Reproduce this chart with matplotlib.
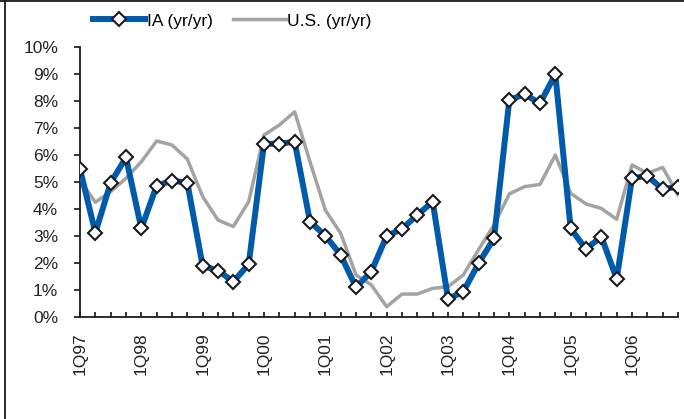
import numpy as np
import matplotlib
matplotlib.use('Agg')
import matplotlib.pyplot as plt
from matplotlib.lines import Line2D

plt.rcParams['font.family'] = ['Liberation Sans', 'DejaVu Sans']

years = ['97', '98', '99', '00', '01', '02', '03', '04', '05', '06']
quarters = ['%dQ%s' % (q, y) for y in years for q in (1, 2, 3, 4)]

ia = [5.48, 3.12, 4.97, 5.91, 3.28, 4.86, 5.05, 4.97,
      1.89, 1.72, 1.31, 1.95, 6.41, 6.42, 6.49, 3.53,
      3.01, 2.30, 1.10, 1.68, 3.00, 3.26, 3.78, 4.27,
      0.67, 0.94, 1.99, 2.91, 8.04, 8.25, 7.91, 8.99,
      3.28, 2.51, 2.98, 1.41, 5.14, 5.23, 4.73, 4.83]
us = [5.07, 4.25, 4.64, 5.14, 5.75, 6.52, 6.37, 5.85,
      4.46, 3.59, 3.35, 4.27, 6.74, 7.11, 7.60, 5.75,
      3.96, 3.10, 1.56, 1.19, 0.38, 0.85, 0.85, 1.06,
      1.12, 1.56, 2.50, 3.41, 4.56, 4.83, 4.91, 6.00,
      4.58, 4.19, 4.02, 3.62, 5.63, 5.32, 5.54, 4.52]

x = np.arange(len(quarters))

fig = plt.figure(figsize=(6.84, 4.19), dpi=100, facecolor='w')
ax = fig.add_axes([80/684., 1-317/419., 598/684., 270/419.])

ax.plot(x, us, color='#a3a3a3', lw=2.5, label='U.S. (yr/yr)', zorder=2)
ax.plot(x, ia, color='#005bab', lw=4.3, marker='D', ms=7.5,
        mfc='w', mec='#1a1a1a', mew=1.5, label='IA (yr/yr)', zorder=3)

ax.set_xlim(0, len(quarters)-1)
ax.set_ylim(0, 10)
ax.set_yticks(np.arange(0, 11, 1))
ax.set_yticklabels(['%d%%' % v for v in range(11)], fontsize=12.5, color='#222222')
ax.set_xticks(x)
ax.set_xticklabels([q if q.startswith('1Q') else '' for q in quarters],
                   rotation=90, fontsize=12.5, color='#222222')
ax.tick_params(axis='x', direction='in', length=3.6, width=1.1, pad=10.8)
ax.tick_params(axis='y', direction='out', length=4.3, width=1.1, pad=11.5)
for s in ['top', 'right']:
    ax.spines[s].set_visible(False)
for s in ['left', 'bottom']:
    ax.spines[s].set_linewidth(1.3)
    ax.spines[s].set_color('#1a1a1a')

h, l = ax.get_legend_handles_labels()
fig.legend(h[::-1], l[::-1], loc='center left', bbox_to_anchor=(86/684., 1-21/419.),
           ncol=2, frameon=False, fontsize=12.5, handlelength=3.0,
           handletextpad=0.1, columnspacing=1.2, borderaxespad=0)

fig.add_artist(Line2D([4.5/684., 4.5/684.], [0, 1], color='#1a1a1a', lw=1.3))
fig.add_artist(Line2D([0, 1], [1-0.8/419., 1-0.8/419.], color='#1a1a1a', lw=1.3))

plt.savefig('out.png', dpi=100, facecolor='w')
